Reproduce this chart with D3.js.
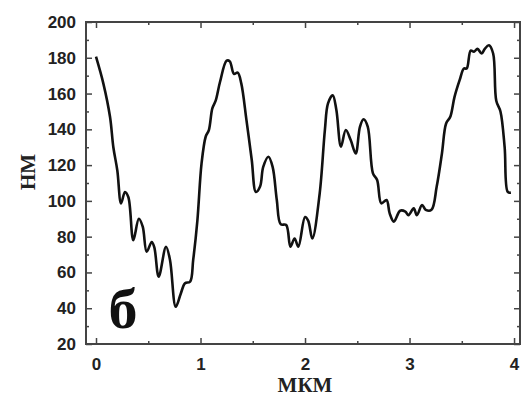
<!DOCTYPE html>
<html>
<head>
<meta charset="utf-8">
<script src="https://cdn.jsdelivr.net/npm/d3@7"></script>
<style>
  body { margin: 0; background: #fff; }
  svg { display: block; }
</style>
</head>
<body>
<div id="holder"></div>
<script>
const width = 523;
const height = 398;

// profile: distance (мкм) and height (нм)
const xs = [0, 0.07, 0.134, 0.166, 0.204, 0.24, 0.277, 0.31, 0.357, 0.41, 0.447, 0.485, 0.533, 0.558, 0.6, 0.67, 0.708, 0.763, 0.81, 0.852, 0.9, 0.93, 0.97, 1.01, 1.05, 1.08, 1.113, 1.145, 1.187, 1.25, 1.28, 1.32, 1.356, 1.39, 1.44, 1.49, 1.53, 1.57, 1.6, 1.65, 1.69, 1.73, 1.767, 1.82, 1.86, 1.9, 1.936, 2.0, 2.03, 2.07, 2.14, 2.19, 2.22, 2.265, 2.3, 2.344, 2.39, 2.437, 2.485, 2.526, 2.56, 2.6, 2.65, 2.69, 2.73, 2.78, 2.81, 2.85, 2.91, 2.96, 2.99, 3.04, 3.07, 3.12, 3.155, 3.21, 3.26, 3.31, 3.35, 3.39, 3.43, 3.48, 3.52, 3.547, 3.585, 3.617, 3.65, 3.69, 3.72, 3.76, 3.8, 3.83, 3.87, 3.91, 3.94, 3.97];
const ys = [180.6, 165.7, 147, 130, 117, 98.6, 105, 102, 78, 90, 85.6, 71.6, 77, 74, 57.6, 74.4, 67, 40.8, 48, 54, 54.8, 67, 89, 121, 136, 139.6, 151.7, 156, 166.6, 178.4, 178, 171, 171.7, 165.7, 145, 123, 105, 108, 119, 124.7, 119, 100.5, 87, 86.5, 74.4, 79, 74.4, 91, 89, 79, 104, 139.6, 154.5, 159, 150.8, 130.3, 139.6, 134, 126.5, 141.5, 145.6, 141.5, 115.4, 111.7, 98.6, 100.5, 93, 88.4, 94.5, 94, 92, 95.8, 92, 97.7, 95, 95, 108, 126.5, 143.3, 147, 158, 167.6, 174, 174, 184, 183.4, 185, 182.4, 185, 187, 182.4, 156, 150, 130, 105, 104.6];

const xTicks = [0, 1, 2, 3, 4];
const yTicks = [20, 40, 60, 80, 100, 120, 140, 160, 180, 200];
const xMinor = [0.5, 1.5, 2.5, 3.5];
const yMinor = [30, 50, 70, 90, 110, 130, 150, 170, 190];

const mLeft = 86, mRight = 520, mTop = 22, mBottom = 344;

const x = d3.scaleLinear().domain([-0.0957, 4.057]).range([mLeft, mRight]);
const y = d3.scaleLinear().domain([20, 200]).range([mBottom, mTop]);

const svg = d3.select("#holder").append("svg")
    .attr("width", width)
    .attr("height", height);

const axisColor = "#444";

// bottom axis with labels
svg.append("g")
    .attr("transform", `translate(0,${mBottom})`)
    .call(d3.axisBottom(x).tickValues(xTicks).tickSize(-6).tickPadding(14).tickFormat(d3.format("d")));
// top axis (ticks only)
svg.append("g")
    .attr("transform", `translate(0,${mTop})`)
    .call(d3.axisTop(x).tickValues(xTicks).tickSize(-6).tickFormat(""));
// left axis with labels
svg.append("g")
    .attr("transform", `translate(${mLeft},0)`)
    .call(d3.axisLeft(y).tickValues(yTicks).tickSize(-6).tickPadding(10));
// right axis (ticks only)
svg.append("g")
    .attr("transform", `translate(${mRight},0)`)
    .call(d3.axisRight(y).tickValues(yTicks).tickSize(-6).tickFormat(""));

// minor ticks
svg.append("g").attr("transform", `translate(0,${mBottom})`)
    .call(d3.axisBottom(x).tickValues(xMinor).tickSize(-3).tickFormat(""));
svg.append("g").attr("transform", `translate(0,${mTop})`)
    .call(d3.axisTop(x).tickValues(xMinor).tickSize(-3).tickFormat(""));
svg.append("g").attr("transform", `translate(${mLeft},0)`)
    .call(d3.axisLeft(y).tickValues(yMinor).tickSize(-3).tickFormat(""));
svg.append("g").attr("transform", `translate(${mRight},0)`)
    .call(d3.axisRight(y).tickValues(yMinor).tickSize(-3).tickFormat(""));

svg.selectAll(".domain").remove();
svg.selectAll(".tick line").attr("stroke", axisColor).attr("stroke-width", 1.5);
svg.selectAll(".tick text")
    .attr("font-family", "Liberation Sans, Arial, sans-serif")
    .attr("font-weight", "bold")
    .attr("font-size", 17)
    .attr("fill", "#222");

// frame
svg.append("rect")
    .attr("x", mLeft).attr("y", mTop)
    .attr("width", mRight - mLeft).attr("height", mBottom - mTop)
    .attr("fill", "none")
    .attr("stroke", axisColor)
    .attr("stroke-width", 2);

// profile line
const data = xs.map((d, i) => [d, ys[i]]);
const line = d3.line()
    .x(d => x(d[0]))
    .y(d => y(d[1]))
    .curve(d3.curveCatmullRom.alpha(0.5));

svg.append("path")
    .datum(data)
    .attr("fill", "none")
    .attr("stroke", "#111")
    .attr("stroke-width", 2.6)
    .attr("stroke-linejoin", "round")
    .attr("d", line);

// axis titles
svg.append("text")
    .attr("x", 305).attr("y", 392)
    .attr("text-anchor", "middle")
    .attr("font-family", "Liberation Serif, Times New Roman, serif")
    .attr("font-weight", "bold")
    .attr("font-size", 21)
    .attr("fill", "#222")
    .text("МКМ");

svg.append("text")
    .attr("transform", "translate(35,172) rotate(-90)")
    .attr("text-anchor", "middle")
    .attr("font-family", "Liberation Serif, Times New Roman, serif")
    .attr("font-weight", "bold")
    .attr("font-size", 21)
    .attr("fill", "#222")
    .text("НМ");

// panel letter
svg.append("text")
    .attr("x", 123).attr("y", 328)
    .attr("text-anchor", "middle")
    .attr("font-family", "Liberation Serif, Times New Roman, serif")
    .attr("font-weight", "bold")
    .attr("font-size", 58)
    .attr("fill", "#111")
    .text("б");
</script>
</body>
</html>
